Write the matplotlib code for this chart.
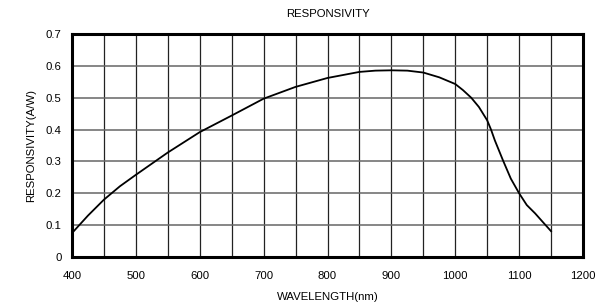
import matplotlib
matplotlib.use('Agg')
import matplotlib.pyplot as plt
import numpy as np

# spectral responsivity
wavelength = [400, 425, 450, 475, 500, 550, 600, 650, 700, 750, 800, 850, 875,
              900, 925, 950, 975, 1000, 1012, 1025, 1037, 1050, 1056, 1062,
              1075, 1087, 1100, 1112, 1125, 1137, 1150]
responsivity = [0.075, 0.130, 0.180, 0.222, 0.258, 0.328, 0.392, 0.444, 0.497,
                0.534, 0.562, 0.581, 0.585, 0.586, 0.585, 0.579, 0.564, 0.543,
                0.524, 0.500, 0.471, 0.429, 0.400, 0.366, 0.302, 0.246, 0.200,
                0.163, 0.137, 0.110, 0.081]

x_ticks = [400, 500, 600, 700, 800, 900, 1000, 1100, 1200]
y_ticks = [0, 0.1, 0.2, 0.3, 0.4, 0.5, 0.6, 0.7]
y_labels = ['0', '0.1', '0.2', '0.3', '0.4', '0.5', '0.6', '0.7']

plt.rcParams['font.family'] = ['Liberation Sans', 'DejaVu Sans']

fig = plt.figure(figsize=(6.04, 3.05), dpi=100)
ax = fig.add_axes([72 / 604, 1 - 257 / 305, (583 - 72) / 604, (257 - 34) / 305])

ax.plot(wavelength, responsivity, color='black', lw=1.3, zorder=3)

ax.set_xlim(400, 1200)
ax.set_ylim(0, 0.7)
ax.set_xticks(x_ticks)
ax.set_yticks(y_ticks)
ax.set_yticklabels(y_labels)
ax.set_xticks(np.arange(450, 1200, 100), minor=True)

ax.grid(True, which='both', axis='x', color='#222222', lw=0.9)
ax.grid(True, which='major', axis='y', color='#666666', lw=1.1)
ax.tick_params(which='both', length=0, labelsize=8.2)
ax.tick_params(axis='x', pad=10)
ax.tick_params(axis='y', pad=7.5)

for sp in ax.spines.values():
    sp.set_linewidth(2.2)
    sp.set_color('black')

ax.set_title('RESPONSIVITY', fontsize=8.2, pad=12)
ax.set_xlabel('WAVELENGTH(nm)', fontsize=8.2, labelpad=8)
ax.set_ylabel('RESPONSIVITY(A/W)', fontsize=8.2, labelpad=7)

fig.savefig('out.png', dpi=100)
